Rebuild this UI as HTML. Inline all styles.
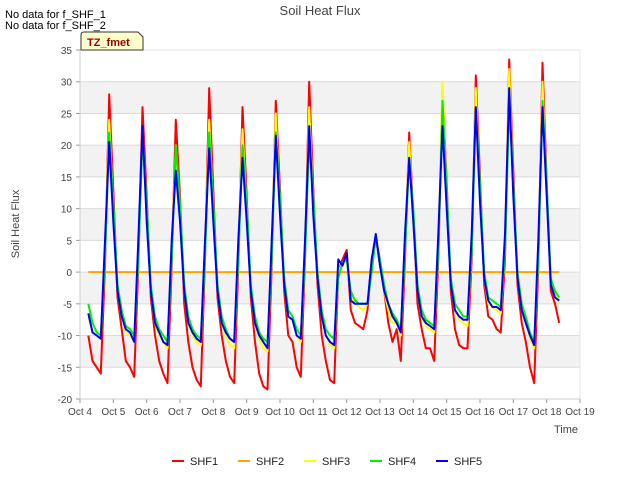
<!DOCTYPE html>
<html><head><meta charset="utf-8"><style>
body{margin:0;background:#fff;font-family:"Liberation Sans",sans-serif}
text{font-family:"Liberation Sans",sans-serif}
</style></head><body>
<svg id="chart" width="640" height="480" xmlns="http://www.w3.org/2000/svg">
<rect width="640" height="480" fill="#fff"/>
<g id="bands"></g><g id="grid"></g>
<g id="series"></g>
<g id="axes"></g>
<text x="320" y="15" text-anchor="middle" font-size="13" fill="#444">Soil Heat Flux</text>
<text x="5" y="18" font-size="11" fill="#000">No data for f_SHF_1</text>
<text x="5" y="29" font-size="11" fill="#000">No data for f_SHF_2</text>
<g><path d="M81,50 L81,35 Q81,32 84,32 L138,32 L143,37 L143,50 Z" fill="#ffffcc" stroke="#333"/>
<text x="87" y="46" font-size="11" font-weight="bold" fill="#a00000">TZ_fmet</text></g>
<text transform="translate(19,224) rotate(-90)" text-anchor="middle" font-size="11" fill="#444">Soil Heat Flux</text>
<text x="566" y="433" text-anchor="middle" font-size="11" fill="#444">Time</text>
<g id="legend"></g>
</svg>
<script>
const yTicks=[-20,-15,-10,-5,0,5,10,15,20,25,30,35];
const xTickDays=[4,5,6,7,8,9,10,11,12,13,14,15,16,17,18,19];
const xTickLabels=["Oct 4","Oct 5","Oct 6","Oct 7","Oct 8","Oct 9","Oct 10","Oct 11","Oct 12","Oct 13","Oct 14","Oct 15","Oct 16","Oct 17","Oct 18","Oct 19"];
const seriesNames=["SHF1","SHF2","SHF3","SHF4","SHF5"];
const seriesColors=["#ff0000","#ffa500","#ffff00","#00ee00","#0000ff"];
const startDay=4.25, stepDay=0.125;
const shf1=[-10,-14,-15,-16,1,28,
13,-4,-9,-14,-15,-16.5,1,26,
12,-4,-10,-14,-16,-17.5,1,24,
12,-5,-11,-15,-17,-18,2,29,
13,-4,-10,-14,-16.5,-17.5,1,26,
12,-4,-11,-16,-18,-18.5,1,27,
13,-3,-10,-11,-15,-16.5,2,30,
13,-2,-10,-14,-17,-17.5,0,2,
3.5,-6,-8,-8.5,-9,-6,2,5.5,
1,-3,-8,-11,-9,-14,2,22,
9,-5,-9,-12,-12,-14,2,29,
14,-3,-9,-11.5,-12,-12,2,31,
15,-2,-7,-7.5,-9,-9.5,2,33.5,
16,-2,-8,-11,-15,-17.5,1,33,
14,-3,-5,-8];
const shf2=[0,0,0,0,0,0,
0,0,0,0,0,0,0,0, 0,0,0,0,0,0,0,0, 0,0,0,0,0,0,0,0, 0,0,0,0,0,0,0,0,
0,0,0,0,0,0,0,0, 0,0,0,0,0,0,0,0, 0,0,0,0,0,0,0,0, 0,0,0,0,0,0,0,0,
0,0,0,0,0,0,0,0, 0,0,0,0,0,0,0,0, 0,0,0,0,0,0,0,0, 0,0,0,0,0,0,0,0,
0,0,0,0,0,0,0,0, 0,0,0,0];
const shf3=[-7,-9.5,-10,-10.5,3,24,
10,-3,-7,-9.5,-10,-11,3,22.5,
10,-3,-8,-10,-11,-12,3,20,
10,-3,-8,-10,-11,-11.5,3,24,
10,-3,-8,-10,-11.5,-12,3,22.5,
10,-3,-8,-10.5,-12,-12.5,3,25,
10,-2,-7,-7.5,-10,-11,3,26,
10,-1,-7,-10,-11.5,-12,0,1.5,
2,-4,-5,-5.5,-6,-5,1,6,
1,-3,-6,-8,-8,-10,4,20.5,
8,-3,-7,-8.5,-9,-9.5,4,30,
12,-2,-6,-7.5,-8,-8.5,4,29,
12,-1,-5,-5.5,-6,-6.5,4,32,
13,-1,-6,-8,-10.5,-12,3,30,
12,-2,-3.5,-5];
const shf4=[-5,-8,-9.5,-10,2,22,
11,-2,-6,-8.5,-9,-10,2,21,
11,-2,-7,-9,-10,-11,2,20,
11,-2,-7,-9,-10,-10.5,2,22,
11,-2,-7,-9,-10.5,-11,2,20,
11,-2,-7,-9.5,-10.5,-11,2,22,
12,-1,-6,-7,-9,-10,2,21,
12,0,-6,-9,-10,-10.5,-1,1.5,
2,-3,-4.5,-5,-5,-5,0,5.5,
2,-2,-5,-6.5,-7.5,-9,3,18,
10,-2,-6,-7.5,-8,-8.5,3,27,
13,-1,-5,-6,-7,-7,3,26,
14,0,-4,-4.5,-5,-5.5,3,27,
14,0,-5,-7,-9.5,-11,2,27,
14,-1,-3,-4];
const shf5=[-6.5,-9.5,-10,-10.5,5,20.5,
8,-3,-7,-9,-9.5,-11,5,23,
8,-3,-8,-9.5,-11,-11.5,5,16,
8,-3,-8,-9.5,-10.5,-11,5,19.5,
8,-3,-8,-9.5,-10.5,-11,5,18,
8,-3,-8,-10,-11,-12,5,21.5,
9,-2,-7,-7.5,-10,-10.5,5,23,
9,-1,-7,-10,-11,-11.5,2,1,
3,-4.5,-5,-5,-5,-5,2,6,
1,-3,-5,-7,-8,-9.5,6,18,
8,-3,-7,-8,-8.5,-9,6,23,
10,-2,-6,-7,-7.5,-7.5,6,26,
11,-1,-4.5,-5.5,-5.5,-6,6,29,
12,-1,-6,-8,-10,-11.5,5,26,
12,-2,-4,-4.5];
const allSeries=[shf1,shf2,shf3,shf4,shf5];

const X0=80,X1=580,Y0=50,Y1=399,DMIN=4,DMAX=19,VMIN=-20,VMAX=35;
const xs=d=>X0+(d-DMIN)/(DMAX-DMIN)*(X1-X0);
const ys=v=>Y1-(v-VMIN)/(VMAX-VMIN)*(Y1-Y0);
const NS="http://www.w3.org/2000/svg";
function mk(t,a,p){const e=document.createElementNS(NS,t);for(const k in a)e.setAttribute(k,a[k]);p.appendChild(e);return e;}
const bands=document.getElementById('bands'),grid=document.getElementById('grid'),axes=document.getElementById('axes'),ser=document.getElementById('series'),leg=document.getElementById('legend');
mk('rect',{x:X0,y:Y0,width:X1-X0,height:Y1-Y0,fill:'#fff'},bands);
for(let i=0;i<yTicks.length-1;i++){
  if(i%2===1){const r=mk('rect',{x:X0,y:ys(yTicks[i+1]),width:X1-X0,height:ys(yTicks[i])-ys(yTicks[i+1]),fill:'#f2f2f2'},bands);
  
  }
}
yTicks.forEach(v=>{
  const l=mk('line',{x1:X0,x2:X1,y1:ys(v),y2:ys(v),stroke:'#dcdcdc','stroke-width':1},grid);
  
  
  const t=mk('text',{x:X0-8,y:ys(v)+4,'text-anchor':'end','font-size':10,fill:'#444'},axes);
  t.textContent=v;
  
  
  mk('line',{x1:X0-4,x2:X0,y1:ys(v),y2:ys(v),stroke:'#999'},axes);
});
xTickDays.forEach((d,i)=>{
  mk('line',{x1:xs(d),x2:xs(d),y1:Y1,y2:Y1+4,stroke:'#999'},axes);
  const t=mk('text',{x:xs(d),y:Y1+16,'text-anchor':'middle','font-size':10,fill:'#444'},axes);
  t.textContent=xTickLabels[i];
  
  
});
mk('line',{x1:X0,x2:X0,y1:Y0,y2:Y1,stroke:'#ccc'},axes);
mk('line',{x1:X0,x2:X1,y1:Y1,y2:Y1,stroke:'#ccc'},axes);
mk('line',{x1:X1,x2:X1,y1:Y0,y2:Y1,stroke:'#e6e6e6'},axes);
mk('line',{x1:X0,x2:X1,y1:Y0,y2:Y0,stroke:'#e6e6e6'},axes);
allSeries.forEach((arr,si)=>{
  const pts=arr.map((v,i)=>xs(startDay+i*stepDay).toFixed(1)+','+ys(v).toFixed(1)).join(' ');
  const p=mk('polyline',{points:pts,fill:'none',stroke:seriesColors[si],'stroke-width':2,'stroke-linejoin':'round'},ser);
  
  
});
seriesNames.forEach((n,i)=>{
  const lx=172+i*66;
  const g=mk('g',{},leg);
  
  
  mk('line',{x1:lx,x2:lx+12,y1:461,y2:461,stroke:seriesColors[i],'stroke-width':2},g);
  const t=mk('text',{x:lx+18,y:465,'font-size':11,fill:'#222'},g);
  t.textContent=n;
});
</script>
</body></html>
